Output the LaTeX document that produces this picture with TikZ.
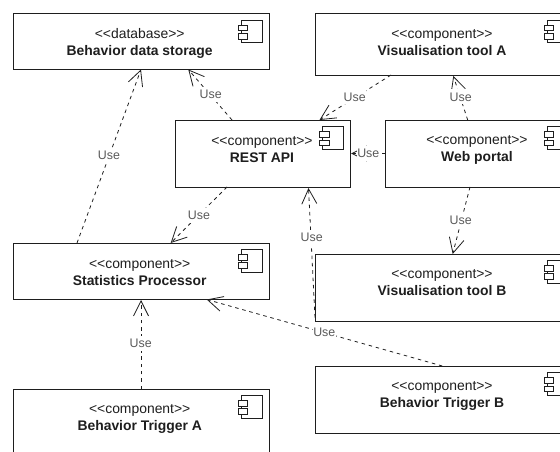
\documentclass[tikz,border=0pt]{standalone}
\usepackage{fontspec}
\setmainfont{Liberation Sans}
\usetikzlibrary{arrows.meta,calc}
\definecolor{ink}{HTML}{1E1E1E}
\definecolor{lbl}{HTML}{5A5A5A}
\tikzset{
  comp/.style={draw=ink,line width=0.9pt,fill=white,rectangle,anchor=north west,inner sep=0pt,outer sep=0pt},
  ctext/.style={align=center,text=ink,font=\fontsize{13.9}{17}\selectfont,inner sep=0pt},
  use/.style={draw=ink,line width=0.8pt,dash pattern=on 3.5pt off 3.8pt,-{Straight Barb[length=15pt,width=15pt,line width=0.8pt]}},
  uselbl/.style={fill=white,text=lbl,font=\fontsize{12.4}{14}\selectfont,inner sep=0.5pt,minimum height=15pt},
  iconpart/.style={draw=ink,line width=0.8pt,fill=white}
}
\newcommand{\compicon}[2]{%
  \draw[iconpart] (#1,#2) rectangle ++(21,22.5);
  \draw[iconpart] (#1-3,#2+5) rectangle ++(9.5,5.8);
  \draw[iconpart] (#1-3,#2+13.2) rectangle ++(9.5,5.8);
}
\newcommand{\stereo}[1]{<{}<#1>{}>}
\begin{document}
\begin{tikzpicture}[x=1pt,y=-1pt]
\useasboundingbox (0,0) rectangle (560,452);
\clip (0,0) rectangle (560,452);
\node[comp,minimum width=256pt,minimum height=56pt] (storage) at (13,13.5) {};
\node[comp,minimum width=260pt,minimum height=61.5pt] (visa) at (315,13.5) {};
\node[comp,minimum width=174.5pt,minimum height=67pt] (rest) at (175.5,120) {};
\node[comp,minimum width=190pt,minimum height=67pt] (web) at (385,120) {};
\node[comp,minimum width=256pt,minimum height=56pt] (stats) at (13,243) {};
\node[comp,minimum width=260pt,minimum height=67pt] (visb) at (315,254) {};
\node[comp,minimum width=260pt,minimum height=67pt] (trigb) at (315,366) {};
\node[comp,minimum width=256pt,minimum height=80pt] (triga) at (13,389) {};
\compicon{241}{20}
\compicon{547}{20}
\compicon{322.5}{126.7}
\compicon{547}{126.7}
\compicon{241}{249.5}
\compicon{547}{260.5}
\compicon{547}{372.7}
\compicon{241}{395.5}
\node[ctext] (storaget) at (139.7,43) {\stereo{database}\\\textbf{Behavior data storage}};
\node[ctext] (visat) at (442,43) {\stereo{component}\\\textbf{Visualisation tool A}};
\node[ctext] (restt) at (262,149.5) {\stereo{component}\\\textbf{REST API}};
\node[ctext] (webt) at (477,149.5) {\stereo{component}\\\textbf{Web portal}};
\node[ctext] (statst) at (139.7,272.5) {\stereo{component}\\\textbf{Statistics Processor}};
\node[ctext] (visbt) at (442,283) {\stereo{component}\\\textbf{Visualisation tool B}};
\node[ctext] (trigbt) at (442,395.5) {\stereo{component}\\\textbf{Behavior Trigger B}};
\node[ctext] (trigat) at (139.7,418.5) {\stereo{component}\\\textbf{Behavior Trigger A}};
% connectors
\draw[use] ([xshift=64pt]stats.north west) -- ([xshift=128pt]storage.south west);
\draw[use] ([xshift=56.5pt]rest.north west) -- ([xshift=175.3pt]storage.south west);
\draw[use] ([xshift=51.5pt]rest.south west) -- ([xshift=157.7pt]stats.north west);
\draw[use] ([xshift=76pt]visa.south west) -- ([xshift=144pt]rest.north west);
\draw[use] ([xshift=82.7pt]web.north west) -- ([xshift=138.3pt,yshift=-1pt]visa.south west);
\draw[use] (web.west) -- ([xshift=1pt]rest.east);
\draw[use] ([xshift=85pt]web.south west) -- ([xshift=137.7pt]visb.north west);
\draw[use] ([yshift=-30pt]visb.west) -- ([xshift=133pt,yshift=-1pt]rest.south west);
\draw[use] ([xshift=128pt]triga.north west) -- ([xshift=128pt,yshift=-1pt]stats.south west);
\draw[use] ([xshift=127.3pt]trigb.north west) -- ([xshift=193.7pt,yshift=-0.5pt]stats.south west);
% labels
\node[uselbl] (l1) at (109,155.7) {Use};
\node[uselbl] (l2) at (210.7,94.3) {Use};
\node[uselbl] (l3) at (199,215) {Use};
\node[uselbl] (l4) at (354.7,97) {Use};
\node[uselbl] (l5) at (460.7,97) {Use};
\node[uselbl] (l6) at (368.3,153.5) {Use};
\node[uselbl] (l7) at (460.7,220.5) {Use};
\node[uselbl] (l8) at (311.7,237) {Use};
\node[uselbl] (l9) at (140.7,343.7) {Use};
\node[uselbl] (l10) at (324.3,332.7) {Use};
\end{tikzpicture}
\end{document}
